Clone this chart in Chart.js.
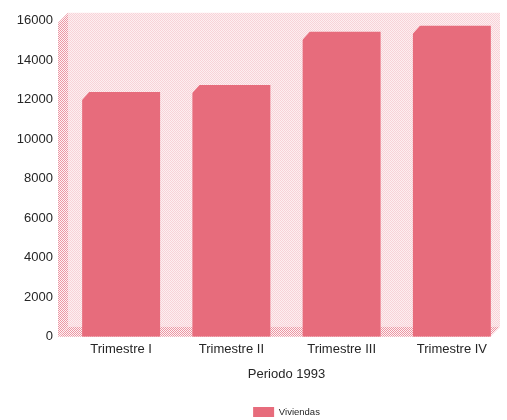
<!DOCTYPE html>
<html>
<head>
<meta charset="utf-8">
<script src="https://cdn.jsdelivr.net/npm/chart.js@4"></script>
<style>
html,body{margin:0;padding:0;background:#fff}
#wrap{width:507px;height:420px}
</style>
</head>
<body>
<div id="wrap"><canvas id="c" width="507" height="420"></canvas></div>
<script>
// ---- data ----
const categories = ['Trimestre I', 'Trimestre II', 'Trimestre III', 'Trimestre IV'];
const viviendas = [12400, 12750, 15450, 15750];
const yTicks = [0, 2000, 4000, 6000, 8000, 10000, 12000, 14000, 16000];
const seriesName = 'Viviendas';
const xTitle = 'Periodo 1993';

// ---- styles ----
const barColor = 'rgb(231,108,124)';
const textColor = '#262626';
const fontFamily = '"Liberation Sans", Arial, sans-serif';

function makePattern(ctx, a, b) {
  const c = document.createElement('canvas');
  c.width = 2; c.height = 2;
  const x = c.getContext('2d');
  x.fillStyle = b; x.fillRect(0, 0, 2, 2);
  x.fillStyle = a; x.fillRect(0, 0, 1, 1); x.fillRect(1, 1, 1, 1);
  return ctx.createPattern(c, 'repeat');
}

const walls = {
  id: 'walls',
  beforeDatasetsDraw(chart) {
    const { ctx, chartArea: a } = chart;
    const d = 10;
    const L = a.left - 8, R = a.right - 7, T = a.top - 8, B = a.bottom;
    const back = makePattern(ctx, '#f8d3d8', '#fdeff1');
    const side = makePattern(ctx, '#ec97a3', '#fdf2f4');
    ctx.save();
    // back wall
    ctx.fillStyle = back;
    ctx.fillRect(L + d, T, R - (L + d), (B - d) - T);
    // left wall
    ctx.fillStyle = side;
    ctx.beginPath();
    ctx.moveTo(L, T + d); ctx.lineTo(L + d, T); ctx.lineTo(L + d, B - d); ctx.lineTo(L, B);
    ctx.closePath(); ctx.fill();
    // floor
    ctx.beginPath();
    ctx.moveTo(L, B); ctx.lineTo(L + d, B - d); ctx.lineTo(R, B - d); ctx.lineTo(R - d, B);
    ctx.closePath(); ctx.fill();
    ctx.restore();
    chart._backPattern = back;
  },
  afterDatasetsDraw(chart) {
    const { ctx } = chart;
    const meta = chart.getDatasetMeta(0);
    ctx.save();
    ctx.fillStyle = chart._backPattern;
    meta.data.forEach(el => {
      const left = el.x - el.width / 2;
      ctx.beginPath();
      ctx.moveTo(left - 1, el.y - 1);
      ctx.lineTo(left + 8, el.y - 1);
      ctx.lineTo(left - 1, el.y + 9);
      ctx.closePath();
      ctx.fill();
    });
    ctx.restore();
  }
};

Chart.defaults.color = textColor;
Chart.defaults.font.family = fontFamily;

new Chart(document.getElementById('c'), {
  type: 'bar',
  data: {
    labels: categories,
    datasets: [{
      label: seriesName,
      data: viviendas,
      backgroundColor: barColor,
      borderWidth: 0,
      barPercentage: 0.707,
      categoryPercentage: 1
    }]
  },
  options: {
    responsive: false,
    animation: false,
    devicePixelRatio: 1,
    layout: { padding: { left: 14, right: 0, top: 14, bottom: -7 } },
    scales: {
      x: {
        grid: { display: false, drawTicks: false },
        border: { display: false },
        ticks: { padding: 5, font: { size: 13 }, color: textColor },
        title: { display: true, text: xTitle, font: { size: 13 }, color: textColor, padding: { top: 4, bottom: 23 } }
      },
      y: {
        min: 0, max: 16000,
        afterBuildTicks(s) { s.ticks = yTicks.map(v => ({ value: v })); },
        afterFit(s) { s.width = 52; },
        grid: { display: false, drawTicks: false },
        border: { display: false },
        ticks: { padding: 13, font: { size: 13 }, color: textColor, callback: v => String(v) }
      }
    },
    plugins: {
      legend: {
        position: 'bottom',
        fullSize: false,
        labels: { boxWidth: 21, boxHeight: 10, font: { size: 9.5 }, padding: 2, color: textColor }
      },
      tooltip: { enabled: false }
    }
  },
  plugins: [walls]
});
</script>
</body>
</html>
